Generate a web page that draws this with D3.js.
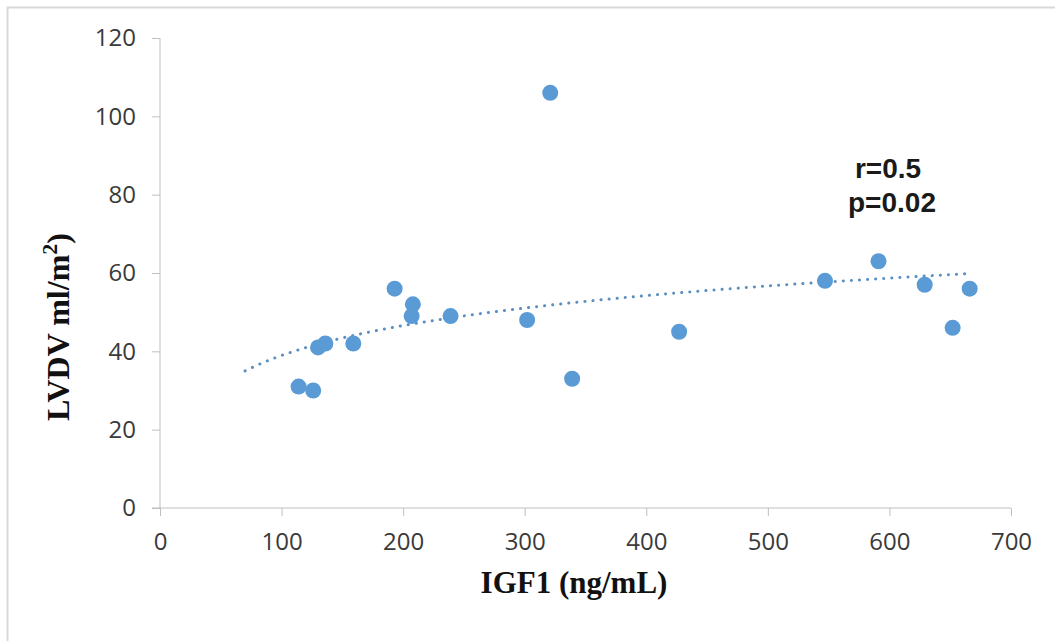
<!DOCTYPE html>
<html lang="en">
<head>
  <meta charset="UTF-8">
  <title>LVDV vs IGF1</title>
  <script src="https://d3js.org/d3.v7.min.js"></script>
  <style>
    body { margin: 0; background: #fff; }
  </style>
</head>
<body>
  <svg width="1055" height="641"></svg>
  <script>
    // data
    const igf1 = [114, 126, 130, 136, 159, 193, 207, 208, 239, 302, 321, 339, 427, 547, 591, 629, 652, 666];
    const lvdv = [31, 30, 41, 42, 42, 56, 49, 52, 49, 48, 106, 33, 45, 58, 63, 57, 46, 56];
    const xTicks = [0, 100, 200, 300, 400, 500, 600, 700];
    const yTicks = [0, 20, 40, 60, 80, 100, 120];
    const trendRange = [70, 665];
    const statLines = ["r=0.5", "p=0.02"];

    const svg = d3.select("svg");
    const blue = "#5b9bd5";
    const axisColor = "#bfbfbf";
    const tickFont = "'Open Sans', sans-serif";

    // outer frame
    svg.append("rect")
      .attr("x", 7.5).attr("y", 7.5)
      .attr("width", 1070).attr("height", 660)
      .attr("fill", "none").attr("stroke", "#d9d9d9").attr("stroke-width", 2);

    const x = d3.scaleLinear().domain([0, 700]).range([160, 1011]);
    const y = d3.scaleLinear().domain([0, 120]).range([508, 38]);

    // y axis
    const yAxis = svg.append("g")
      .attr("transform", "translate(160,0)")
      .call(d3.axisLeft(y).tickValues(yTicks).tickSize(8).tickPadding(16));
    yAxis.select(".domain").attr("stroke", axisColor).attr("d", "M0,38V508");
    yAxis.selectAll(".tick line").attr("stroke", axisColor);

    // x axis
    const xAxis = svg.append("g")
      .attr("transform", "translate(0,508)")
      .call(d3.axisBottom(x).tickValues(xTicks).tickSize(8).tickPadding(14));
    xAxis.select(".domain").attr("stroke", axisColor).attr("d", "M152,0H1011");
    xAxis.selectAll(".tick line").attr("stroke", axisColor);
    xAxis.selectAll(".tick text").attr("dy", "0.85em");

    svg.selectAll(".tick text")
      .style("font-family", tickFont)
      .style("font-size", "24px")
      .attr("fill", "#3a3a3a");

    // logarithmic trendline (least squares on ln x)
    const lx = igf1.map(v => Math.log(v));
    const mx = d3.mean(lx), my = d3.mean(lvdv);
    const b = d3.sum(lx, (v, i) => (v - mx) * (lvdv[i] - my)) / d3.sum(lx, v => (v - mx) ** 2);
    const a = my - b * mx;
    const trendPts = d3.range(trendRange[0], trendRange[1] + 1, 5).map(v => [v, a + b * Math.log(v)]);
    svg.append("path")
      .datum(trendPts)
      .attr("d", d3.line().x(d => x(d[0])).y(d => y(d[1])).curve(d3.curveMonotoneX))
      .attr("fill", "none")
      .attr("stroke", "#5b8fc0")
      .attr("stroke-width", 3)
      .attr("stroke-linecap", "round")
      .attr("stroke-dasharray", "0.1 8");

    // points
    svg.append("g")
      .selectAll("circle")
      .data(igf1)
      .join("circle")
      .attr("cx", d => x(d))
      .attr("cy", (d, i) => y(lvdv[i]))
      .attr("r", 8)
      .attr("fill", blue);

    // stats
    svg.append("text")
      .attr("font-family", "Liberation Sans, Arial, sans-serif")
      .attr("font-weight", "bold")
      .attr("font-size", 28)
      .attr("fill", "#1a1a1a")
      .attr("text-anchor", "middle")
      .selectAll("tspan")
      .data(statLines)
      .join("tspan")
      .attr("x", (d, i) => i === 0 ? 888 : 892)
      .attr("y", (d, i) => 178 + i * 34)
      .text(d => d);

    // axis titles
    svg.append("text")
      .attr("x", 574).attr("y", 593)
      .attr("text-anchor", "middle")
      .attr("font-family", "Liberation Serif, Times New Roman, serif")
      .attr("font-weight", "bold")
      .attr("font-size", 31)
      .attr("fill", "#111")
      .text("IGF1 (ng/mL)");

    const yt = svg.append("text")
      .attr("transform", "translate(69,327) rotate(-90)")
      .attr("text-anchor", "middle")
      .attr("font-family", "Liberation Serif, Times New Roman, serif")
      .attr("font-weight", "bold")
      .attr("font-size", 32)
      .attr("fill", "#111");
    yt.append("tspan").text("LVDV ml/m");
    yt.append("tspan").attr("font-size", 22).attr("dy", -12).text("2");
    yt.append("tspan").attr("dy", 12).text(")");
  </script>
</body>
</html>
